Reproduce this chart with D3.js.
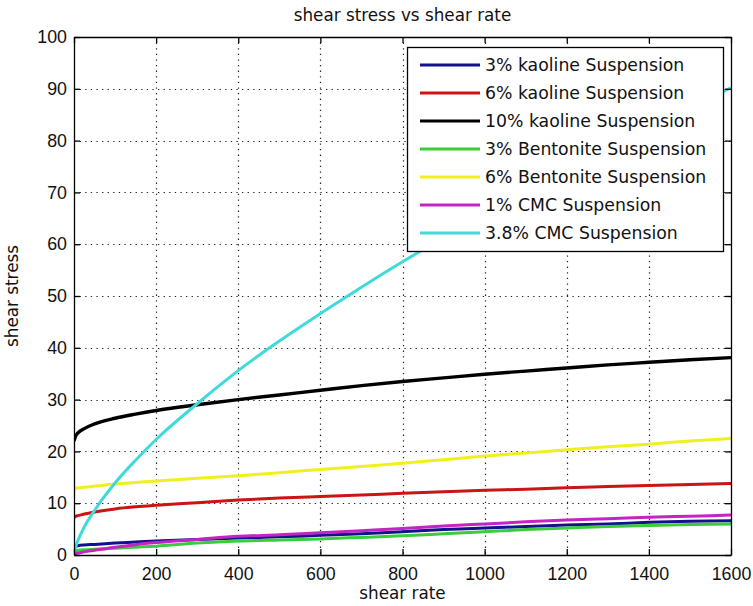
<!DOCTYPE html>
<html>
<head>
<meta charset="utf-8">
<script src="https://cdn.jsdelivr.net/npm/d3@7/dist/d3.min.js"></script>
<style>
  html, body { margin: 0; padding: 0; background: #ffffff; }
  svg { display: block; }
</style>
</head>
<body>
<svg id="chart" width="753" height="606"></svg>
<script>
// ---- data ----
const shearRate = [0, 5, 10, 25, 50, 100, 150, 200, 300, 400, 500, 600, 700, 800, 900, 1000, 1100, 1200, 1300, 1400, 1500, 1600];

const kaoline3    = [1.3, 1.7, 1.8, 1.95, 2.05, 2.3, 2.5, 2.7, 3.0, 3.3, 3.5, 3.8, 4.1, 4.5, 4.9, 5.2, 5.5, 5.8, 6.0, 6.3, 6.5, 6.6];
const kaoline6    = [7.2, 7.5, 7.6, 7.9, 8.3, 8.9, 9.3, 9.6, 10.1, 10.6, 11.0, 11.3, 11.6, 11.9, 12.2, 12.5, 12.7, 13.0, 13.2, 13.4, 13.6, 13.8];
const kaoline10   = [22.0, 23.1, 23.6, 24.4, 25.3, 26.4, 27.2, 27.9, 29.0, 30.0, 30.9, 31.8, 32.7, 33.5, 34.2, 34.9, 35.5, 36.1, 36.7, 37.2, 37.7, 38.1];
const bentonite3  = [0.8, 0.85, 0.9, 1.0, 1.1, 1.3, 1.5, 1.7, 2.3, 2.7, 2.9, 3.1, 3.4, 3.7, 4.1, 4.5, 4.9, 5.2, 5.5, 5.7, 5.9, 6.0];
const bentonite6  = [12.8, 12.9, 12.95, 13.1, 13.3, 13.7, 14.0, 14.3, 14.8, 15.3, 15.9, 16.5, 17.1, 17.7, 18.4, 19.1, 19.7, 20.3, 20.9, 21.4, 22.0, 22.5];
const cmc1        = [0.2, 0.3, 0.4, 0.6, 0.9, 1.5, 2.0, 2.4, 3.0, 3.6, 3.9, 4.3, 4.7, 5.1, 5.6, 6.0, 6.4, 6.75, 7.0, 7.3, 7.5, 7.7];
const cmc38       = [0.5, 1.8, 2.9, 5.4, 8.6, 13.9, 18.3, 22.3, 29.2, 35.6, 41.3, 46.6, 51.7, 56.6, 61.3, 65.9, 70.3, 74.6, 78.8, 82.9, 86.5, 90.2];

const seriesNames = [
  "3% kaoline Suspension",
  "6% kaoline Suspension",
  "10% kaoline Suspension",
  "3% Bentonite Suspension",
  "6% Bentonite Suspension",
  "1% CMC Suspension",
  "3.8% CMC Suspension"
];
const seriesValues = [kaoline3, kaoline6, kaoline10, bentonite3, bentonite6, cmc1, cmc38];
const seriesColors = ["#12128c", "#cc1414", "#000000", "#3acc3a", "#f0f020", "#c424c4", "#40dada"];

const xTicks = [0, 200, 400, 600, 800, 1000, 1200, 1400, 1600];
const yTicks = [0, 10, 20, 30, 40, 50, 60, 70, 80, 90, 100];

const titleText = "shear stress vs shear rate";
const xLabel = "shear rate";
const yLabel = "shear stress";

// ---- layout ----
const plot = { left: 74, top: 37, right: 731, bottom: 555 };
const svg = d3.select("#chart");

const x = d3.scaleLinear().domain([0, 1600]).range([plot.left, plot.right]);
const y = d3.scaleLinear().domain([0, 100]).range([plot.bottom, plot.top]);

svg.append("rect").attr("x", 0).attr("y", 0).attr("width", 753).attr("height", 606).attr("fill", "#fff");
svg.append("rect")
  .attr("x", plot.left).attr("y", plot.top)
  .attr("width", plot.right - plot.left).attr("height", plot.bottom - plot.top)
  .attr("fill", "#fff");

// grid (dotted)
const grid = svg.append("g");
grid.selectAll("line.vg").data(xTicks.slice(1, -1)).enter().append("line")
  .attr("x1", d => Math.round(x(d)) + 0.5).attr("x2", d => Math.round(x(d)) + 0.5)
  .attr("y1", plot.top).attr("y2", plot.bottom)
  .attr("stroke", "#222").attr("stroke-width", 1.2).attr("stroke-dasharray", "1.3,4.3");
grid.selectAll("line.hg").data(yTicks.slice(1, -1)).enter().append("line")
  .attr("y1", d => Math.round(y(d)) + 0.5).attr("y2", d => Math.round(y(d)) + 0.5)
  .attr("x1", plot.left).attr("x2", plot.right)
  .attr("stroke", "#222").attr("stroke-width", 1.2).attr("stroke-dasharray", "1.3,4.3");

// clip
svg.append("clipPath").attr("id", "clip").append("rect")
  .attr("x", plot.left).attr("y", plot.top)
  .attr("width", plot.right - plot.left).attr("height", plot.bottom - plot.top);

const line = d3.line()
  .x((d, i) => x(shearRate[i]))
  .y(d => y(d))
  .curve(d3.curveMonotoneX);

const lines = svg.append("g").attr("clip-path", "url(#clip)");
seriesValues.forEach((vals, k) => {
  lines.append("path")
    .datum(vals)
    .attr("d", line)
    .attr("fill", "none")
    .attr("stroke", seriesColors[k])
    .attr("stroke-width", k === 2 ? 3.4 : 3)
    .attr("stroke-linejoin", "round");
});

// axes (MATLAB style: ticks inside, box on)
const tickLen = 6;
const fontTick = "Liberation Sans, Arial, sans-serif";

const xAxisB = d3.axisBottom(x).tickValues(xTicks).tickSizeInner(-tickLen).tickSizeOuter(0).tickPadding(12).tickFormat(d3.format("d"));
const xAxisT = d3.axisTop(x).tickValues(xTicks).tickSizeInner(-tickLen).tickSizeOuter(0).tickFormat("");
const yAxisL = d3.axisLeft(y).tickValues(yTicks).tickSizeInner(-tickLen).tickSizeOuter(0).tickPadding(7).tickFormat(d3.format("d"));
const yAxisR = d3.axisRight(y).tickValues(yTicks).tickSizeInner(-tickLen).tickSizeOuter(0).tickFormat("");

function styleAxis(g) {
  g.select(".domain").attr("stroke", "#000").attr("stroke-width", 1.3);
  g.selectAll(".tick line").attr("stroke", "#000").attr("stroke-width", 1.3);
  g.selectAll(".tick text").attr("fill", "#111").style("font-family", fontTick).style("font-size", "17.8px");
}

svg.append("g").attr("transform", `translate(0,${plot.bottom})`).call(xAxisB).call(styleAxis);
svg.append("g").attr("transform", `translate(0,${plot.top})`).call(xAxisT).call(styleAxis);
svg.append("g").attr("transform", `translate(${plot.left},0)`).call(yAxisL).call(styleAxis);
svg.append("g").attr("transform", `translate(${plot.right},0)`).call(yAxisR).call(styleAxis);

// legend
const leg = { x: 407.5, y: 47.5, w: 316, h: 204 };
const lg = svg.append("g");
lg.append("rect")
  .attr("x", leg.x).attr("y", leg.y).attr("width", leg.w).attr("height", leg.h)
  .attr("fill", "#fff").attr("stroke", "#000").attr("stroke-width", 1.3);
seriesNames.forEach((name, i) => {
  const cy = 65 + i * 28;
  lg.append("line")
    .attr("x1", 420).attr("x2", 480).attr("y1", cy).attr("y2", cy)
    .attr("stroke", seriesColors[i]).attr("stroke-width", 3);
  lg.append("text")
    .attr("x", 485).attr("y", cy).attr("dy", "0.36em")
    .style("font-family", "DejaVu Sans, sans-serif").style("font-size", "17.3px")
    .attr("fill", "#111")
    .text(name);
});

// title and labels
svg.append("text")
  .attr("x", (plot.left + plot.right) / 2).attr("y", 21)
  .attr("text-anchor", "middle")
  .style("font-family", "DejaVu Sans, sans-serif").style("font-size", "16.8px")
  .attr("fill", "#111")
  .text(titleText);

svg.append("text")
  .attr("x", (plot.left + plot.right) / 2).attr("y", 599)
  .attr("text-anchor", "middle")
  .style("font-family", "DejaVu Sans, sans-serif").style("font-size", "16.8px")
  .attr("fill", "#111")
  .text(xLabel);

svg.append("text")
  .attr("transform", `translate(18,${(plot.top + plot.bottom) / 2}) rotate(-90)`)
  .attr("text-anchor", "middle")
  .style("font-family", "DejaVu Sans, sans-serif").style("font-size", "16.8px")
  .attr("fill", "#111")
  .text(yLabel);
</script>
</body>
</html>
